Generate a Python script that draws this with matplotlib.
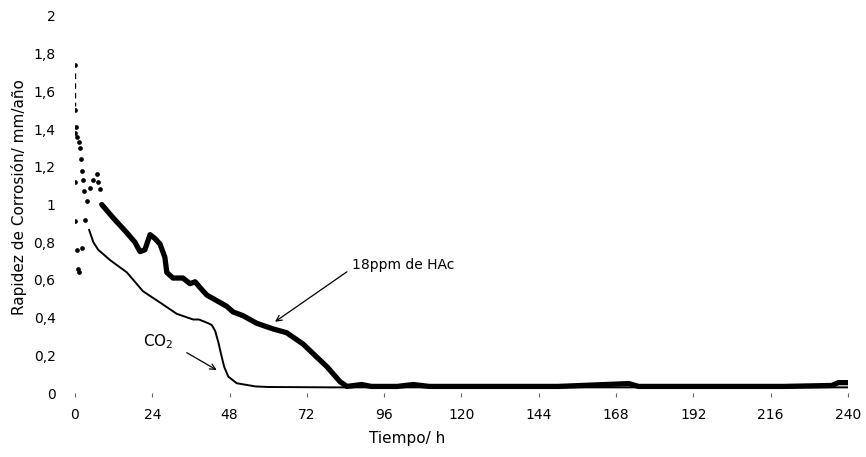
import matplotlib.pyplot as plt
import numpy as np

# tiempo (h) and rapidez de corrosion (mm/año)
co2_t = [4.4, 5.7, 7.2, 10.9, 16.1, 21.1, 26.4, 31.6, 36.7, 38.5, 41.4, 42.5, 43.5, 44.5,
         45.3, 46.3, 47.6, 50.2, 56, 60, 80, 100, 140, 180, 220, 240]
co2_v = [0.865, 0.80, 0.76, 0.705, 0.64, 0.54, 0.48, 0.42, 0.39, 0.39, 0.37, 0.36, 0.33, 0.27,
         0.21, 0.14, 0.087, 0.052, 0.035, 0.032, 0.03, 0.03, 0.03, 0.03, 0.03, 0.03]

# scattered start of the HAc run
hac_pts_t = [0, 0, 0.3, 0, 0.6, 1.2, 1.6, 1.8, 2.2, 2.4, 0, 2.8, 0, 0.6,
             2.2, 1.2, 0.9, 3.1, 3.6, 4.7, 5.6, 6.7, 7.1, 7.8]
hac_pts_v = [1.74, 1.50, 1.41, 1.38, 1.36, 1.33, 1.30, 1.24,
             1.18, 1.13, 1.12, 1.07, 0.91, 0.76, 0.77, 0.64, 0.66, 0.92, 1.02, 1.09, 1.13,
             1.16, 1.12, 1.08]
# first readings, drawn dashed
hac_dash_t = [0.1, 0.1]
hac_dash_v = [1.70, 1.52]

hac_t = [8.3, 11.8, 16.1, 18.6, 20.2, 21.7, 23.3, 24.8, 26.4, 27.9, 28.5, 30.4, 33.5, 35.7,
         37.3, 38.8, 40.9, 44.0, 47.1, 49.1, 52.2, 54.3, 56.4, 61.5, 65.7, 70.8, 75.1, 78.2,
         82.3, 84.4, 89, 92, 100, 105, 110, 130, 150, 172, 175, 200, 220, 235, 237, 240]
hac_v = [1.0, 0.93, 0.85, 0.80, 0.75, 0.76, 0.84, 0.82, 0.79, 0.72, 0.64, 0.61, 0.61, 0.58,
         0.59, 0.56, 0.52, 0.49, 0.46, 0.43, 0.41, 0.39, 0.37, 0.34, 0.32, 0.26, 0.19, 0.14,
         0.06, 0.035, 0.045, 0.035, 0.035, 0.045, 0.035, 0.035, 0.035, 0.05, 0.035, 0.035,
         0.035, 0.04, 0.055, 0.055]

xticks = [0, 24, 48, 72, 96, 120, 144, 168, 192, 216, 240]
yticks = [0, 0.2, 0.4, 0.6, 0.8, 1, 1.2, 1.4, 1.6, 1.8, 2]
ylabels = ['0', '0,2', '0,4', '0,6', '0,8', '1', '1,2', '1,4', '1,6', '1,8', '2']

fig = plt.figure(figsize=(8.66, 4.57), dpi=100)
ax = fig.add_axes([0.0866, 0.140, 0.8926, 0.825])

ax.plot(co2_t, co2_v, color='black', lw=1.4)
ax.plot(hac_t, hac_v, color='black', lw=3.8, solid_capstyle='round')
ax.plot(hac_pts_t, hac_pts_v, 'o', color='black', ms=3.4, mew=0)
ax.plot(hac_dash_t, hac_dash_v, color='black', lw=1.0, ls=(0, (4, 3)))

ax.annotate('18ppm de HAc', xy=(62.1, 0.378), xytext=(86, 0.68),
            fontsize=10, va='center', ha='left',
            arrowprops=dict(arrowstyle='->', color='black', lw=0.9,
                            shrinkA=0, shrinkB=0, relpos=(-0.05, 0.0)))
ax.annotate('', xy=(44.0, 0.122), xytext=(34.7, 0.214),
            arrowprops=dict(arrowstyle='->', color='black', lw=0.9, shrinkA=0, shrinkB=0))
ax.text(26.0, 0.27, 'CO$_2$', fontsize=11, ha='center', va='center')

ax.set_xlim(0, 240)
ax.set_ylim(0, 2)
ax.set_xticks(xticks)
ax.set_yticks(yticks)
ax.set_yticklabels(ylabels)
ax.tick_params(axis='x', length=3, width=0.8, color='0.4', labelsize=10, pad=8)
ax.tick_params(axis='y', length=0, labelsize=10, pad=14)
for s in ax.spines.values():
    s.set_visible(False)

ax.set_xlabel('Tiempo/ h', fontsize=11)
ax.xaxis.set_label_coords(0.43, -0.1)
ax.set_ylabel('Rapidez de Corrosión/ mm/año', fontsize=11)
ax.yaxis.set_label_coords(-0.062, 0.52)

fig.savefig('out.png', dpi=100)
